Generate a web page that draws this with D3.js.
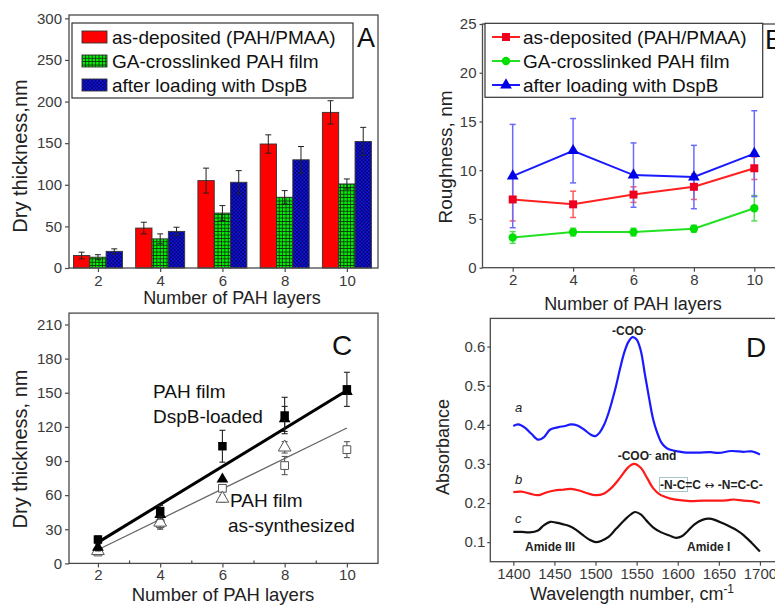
<!DOCTYPE html>
<html>
<head>
<meta charset="utf-8">
<script src="https://cdn.jsdelivr.net/npm/d3@7"></script>
<style>
  body { margin: 0; background: #fff; }
  svg { font-family: "Liberation Sans", Arial, sans-serif; }
</style>
</head>
<body>
<svg id="fig" width="775" height="605"></svg>
<script>
// ---- data ----
var layers = [2, 4, 6, 8, 10];
var layerTicks = [2, 4, 6, 8, 10];

// A: dry thickness bars (nm)
var thickAsDep = [15, 48, 105, 149, 187];
var thickAsDepErr = [4, 7, 15, 11, 14];
var thickGA = [13, 35, 66, 85, 101];
var thickGAErr = [3, 6, 9, 8, 6];
var thickDspB = [20, 44, 103, 130, 152];
var thickDspBErr = [3, 5, 14, 16, 17];
var thickTicks = [0, 50, 100, 150, 200, 250, 300];

// B: roughness (nm)
var roughAsDep = [7.0, 6.5, 7.5, 8.3, 10.2];
var roughAsDepErr = [2.2, 1.35, 0.8, 1.3, 1.15];
var roughGA = [3.1, 3.65, 3.65, 4.0, 6.1];
var roughGAErr = [0.6, 0.4, 0.4, 0.35, 1.3];
var roughDspB = [9.4, 12.0, 9.5, 9.3, 11.7];
var roughDspBErr = [5.3, 3.3, 3.3, 3.25, 4.4];
var roughTicks = [0, 5, 10, 15, 20, 25];

// C: thickness vs layers, measured / calculated
var loadedMeas = [21, 46, 103, 130, 153];
var loadedMeasErr = [3, 5, 14, 16, 15];
var loadedCalc = [14, 43, 74, 127, 151];
var loadedCalcErr = [3, 4, 0, 11, 0];
var synthMeas = [10, 35, 66, 86, 100];
var synthMeasErr = [2, 4, 3, 8, 7];
var synthCalc = [11, 36, 57, 102, null];
var synthCalcErr = [2, 6, 3, 5, 0];
var fitLayers = [2, 10];
var fitLoaded = [18.5, 152];
var fitSynth = [12, 119];
var thickTicksC = [0, 30, 60, 90, 120, 150, 180, 210];
var minorLayers = [3, 5, 7, 9];

// D: FTIR spectra
var specA_x = [1400,1406,1414,1422,1430,1437,1445,1455,1463,1470,1478,1486,1494,1500,1505,1510,1515,1520,1525,1530,1535,1540,1545,1550,1555,1560,1565,1570,1575,1580,1585,1590,1600,1610,1625,1640,1650,1665,1680,1690,1700];
var specA_y = [0.397,0.401,0.393,0.377,0.362,0.368,0.388,0.394,0.397,0.401,0.398,0.388,0.375,0.371,0.380,0.398,0.425,0.460,0.500,0.545,0.585,0.612,0.624,0.618,0.590,0.530,0.470,0.415,0.380,0.355,0.343,0.337,0.332,0.329,0.329,0.330,0.328,0.333,0.331,0.332,0.324];
var specB_x = [1400,1410,1420,1430,1440,1450,1460,1470,1480,1490,1500,1510,1520,1530,1540,1547,1555,1563,1570,1578,1590,1600,1615,1630,1645,1660,1668,1680,1690,1700];
var specB_y = [0.228,0.229,0.224,0.220,0.227,0.232,0.234,0.236,0.232,0.225,0.220,0.224,0.240,0.265,0.292,0.300,0.290,0.263,0.238,0.222,0.212,0.208,0.205,0.206,0.206,0.207,0.209,0.206,0.205,0.200];
var specC_x = [1400,1410,1420,1430,1437,1445,1452,1460,1468,1476,1484,1492,1500,1508,1515,1525,1535,1543,1548,1555,1562,1570,1580,1590,1598,1605,1612,1620,1630,1638,1645,1655,1665,1672,1680,1690,1700];
var specC_y = [0.126,0.126,0.125,0.130,0.143,0.152,0.150,0.146,0.141,0.132,0.119,0.107,0.100,0.104,0.112,0.134,0.156,0.171,0.177,0.171,0.155,0.138,0.125,0.117,0.111,0.115,0.128,0.145,0.157,0.160,0.157,0.148,0.138,0.130,0.118,0.098,0.076];
var waveTicks = [1400, 1450, 1500, 1550, 1600, 1650, 1700];
var absTicks = [0.1, 0.2, 0.3, 0.4, 0.5, 0.6];

// ---- drawing ----
var svg = d3.select("#fig");
var grey = "#4a4a4a";

var defs = svg.append("defs");
var pg = defs.append("pattern").attr("id", "gridGreen")
  .attr("patternUnits", "userSpaceOnUse").attr("width", 3.4).attr("height", 3.4);
pg.append("rect").attr("width", 3.4).attr("height", 3.4).attr("fill", "#00ee00");
pg.append("path").attr("d", "M0,0.4H3.4M0.4,0V3.4").attr("stroke", "#103010").attr("stroke-width", 0.9);
var pb = defs.append("pattern").attr("id", "hatchBlue")
  .attr("patternUnits", "userSpaceOnUse").attr("width", 3.6).attr("height", 3.6);
pb.append("rect").attr("width", 3.6).attr("height", 3.6).attr("fill", "#1515d8");
pb.append("path").attr("d", "M0,0L3.6,3.6M3.6,0L0,3.6").attr("stroke", "#00006a").attr("stroke-width", 0.8);

function styleAxis(sel, fs) {
  sel.select(".domain").remove();
  sel.selectAll("line").attr("stroke", grey).attr("stroke-width", 1.2);
  sel.selectAll("text").attr("fill", "#3a3a3a").style("font-size", fs || "15px");
}
function frame(g, x0, y0, x1, y1) {
  g.append("rect").attr("x", x0).attr("y", y0)
    .attr("width", x1 - x0).attr("height", y1 - y0)
    .attr("fill", "none").attr("stroke", grey).attr("stroke-width", 1.3);
}
function ytitle(g, txt, x, y, fs) {
  g.append("text").attr("transform", "translate(" + x + "," + y + ")rotate(-90)")
    .attr("text-anchor", "middle").attr("dominant-baseline", "central")
    .style("font-size", fs).attr("fill", "#222").text(txt);
}
function xtitle(g, txt, x, y, fs) {
  return g.append("text").attr("x", x).attr("y", y).attr("text-anchor", "middle")
    .style("font-size", fs).attr("fill", "#222").text(txt);
}
function errBars(g, xs, ys, es, xsc, ysc, color, cap, sw) {
  layers.forEach(function (d, i) {
    if (ys[i] == null || !es[i]) return;
    var x = xsc(xs[i]), yl = ysc(ys[i] - es[i]), yh = ysc(ys[i] + es[i]);
    g.append("line").attr("x1", x).attr("x2", x).attr("y1", yl).attr("y2", yh)
      .attr("stroke", color).attr("stroke-width", sw);
    [yl, yh].forEach(function (yy) {
      g.append("line").attr("x1", x - cap).attr("x2", x + cap).attr("y1", yy).attr("y2", yy)
        .attr("stroke", color).attr("stroke-width", sw);
    });
  });
}

// ===== Panel A =====
var xA = d3.scaleLinear().domain([1.07, 11]).range([69, 378]);
var yA = d3.scaleLinear().domain([0, 304]).range([268, 15]);
var gA = svg.append("g");
var bw = 0.525;
var seriesA = [
  { vals: thickAsDep, err: thickAsDepErr, fill: "#ff0000", off: -1, name: "as-deposited (PAH/PMAA)" },
  { vals: thickGA, err: thickGAErr, fill: "url(#gridGreen)", off: 0, name: "GA-crosslinked PAH film" },
  { vals: thickDspB, err: thickDspBErr, fill: "url(#hatchBlue)", off: 1, name: "after loading with DspB" }
];
seriesA.forEach(function (s) {
  gA.selectAll(null).data(layers).enter().append("rect")
    .attr("x", function (d) { return xA(d + (s.off - 0.5) * bw); })
    .attr("width", xA(bw) - xA(0))
    .attr("y", function (d, i) { return yA(s.vals[i]); })
    .attr("height", function (d, i) { return yA(0) - yA(s.vals[i]); })
    .attr("fill", s.fill).attr("stroke", "#333").attr("stroke-width", 0.9);
  var cx = layers.map(function (d) { return d + s.off * bw; });
  errBars(gA, cx, s.vals, s.err, xA, yA, "#222", 3, 1);
});
gA.append("g").attr("transform", "translate(0,268)")
  .call(d3.axisBottom(xA).tickValues(layerTicks).tickSize(4).tickPadding(3).tickFormat(d3.format("d")))
  .call(styleAxis);
gA.append("g").attr("transform", "translate(69,0)")
  .call(d3.axisLeft(yA).tickValues(thickTicks).tickSize(4).tickPadding(3))
  .call(styleAxis);
frame(gA, 69, 15, 378, 268);
var legA = gA.append("g");
legA.append("rect").attr("x", 72).attr("y", 23).attr("width", 281).attr("height", 75)
  .attr("fill", "#fff").attr("stroke", "#333").attr("stroke-width", 1.2);
seriesA.forEach(function (s, i) {
  var cy = 37 + i * 24;
  legA.append("rect").attr("x", 82).attr("y", cy - 6).attr("width", 25).attr("height", 12)
    .attr("fill", s.fill).attr("stroke", "#333").attr("stroke-width", 0.9);
  legA.append("text").attr("x", 112).attr("y", cy + 7).style("font-size", "19px")
    .attr("fill", "#111").text(s.name);
});
gA.append("text").attr("x", 357).attr("y", 47).style("font-size", "27px").attr("fill", "#111").text("A");
ytitle(gA, "Dry thickness,nm", 20, 156, "20px");
xtitle(gA, "Number of PAH layers", 232, 304, "18px");

// ===== Panel B =====
var xB = d3.scaleLinear().domain([1, 11]).range([482.5, 784.5]);
var yB = d3.scaleLinear().domain([0, 25]).range([267.7, 24]);
var gB = svg.append("g");
var seriesB = [
  { vals: roughGA, err: roughGAErr, line: "#22e022", mark: "#00e000", ebar: "#55dd55", sym: d3.symbolCircle, size: 55, name: "GA-crosslinked PAH film" },
  { vals: roughAsDep, err: roughAsDepErr, line: "#ff2020", mark: "#ee0020", ebar: "#ff5a5a", sym: d3.symbolSquare, size: 64, name: "as-deposited (PAH/PMAA)" },
  { vals: roughDspB, err: roughDspBErr, line: "#1a1aff", mark: "#0000e8", ebar: "#6a6aff", sym: d3.symbolTriangle, size: 60, name: "after loading with DspB" }
];
seriesB.forEach(function (s) {
  errBars(gB, layers, s.vals, s.err, xB, yB, s.ebar, 3, 1.5);
});
seriesB.forEach(function (s) {
  gB.append("path").datum(layers)
    .attr("d", d3.line().x(function (d) { return xB(d); }).y(function (d, i) { return yB(s.vals[i]); }))
    .attr("fill", "none").attr("stroke", s.line).attr("stroke-width", 2);
  gB.selectAll(null).data(layers).enter().append("path")
    .attr("transform", function (d, i) { return "translate(" + xB(d) + "," + yB(s.vals[i]) + ")"; })
    .attr("d", d3.symbol().type(s.sym).size(s.size)).attr("fill", s.mark);
});
gB.append("g").attr("transform", "translate(0,267.7)")
  .call(d3.axisBottom(xB).tickValues(layerTicks).tickSize(4).tickPadding(3).tickFormat(d3.format("d")))
  .call(styleAxis);
gB.append("g").attr("transform", "translate(482.5,0)")
  .call(d3.axisLeft(yB).tickValues(roughTicks).tickSize(3).tickPadding(3))
  .call(styleAxis);
frame(gB, 482.5, 24, 784.5, 267.7);
var legB = gB.append("g");
legB.append("rect").attr("x", 485).attr("y", 23.3).attr("width", 277.7).attr("height", 74)
  .attr("fill", "#fff").attr("stroke", "#333").attr("stroke-width", 1.2);
[seriesB[1], seriesB[0], seriesB[2]].forEach(function (s, i) {
  var cy = 37 + i * 24;
  legB.append("line").attr("x1", 492).attr("x2", 520).attr("y1", cy).attr("y2", cy)
    .attr("stroke", s.line).attr("stroke-width", 2);
  legB.append("path").attr("transform", "translate(506," + cy + ")")
    .attr("d", d3.symbol().type(s.sym).size(s.size)).attr("fill", s.mark);
  legB.append("text").attr("x", 523).attr("y", cy + 7).style("font-size", "19px")
    .attr("fill", "#111").text(s.name);
});
gB.append("text").attr("x", 765).attr("y", 49).style("font-size", "27px").attr("fill", "#111").text("B");
ytitle(gB, "Roughness, nm", 445, 157, "19px");
xtitle(gB, "Number of PAH layers", 633, 310, "18px");

// ===== Panel C =====
var xC = d3.scaleLinear().domain([1.07, 11]).range([69, 378]);
var yC = d3.scaleLinear().domain([0, 220]).range([563.4, 313.1]);
var gC = svg.append("g");
var fitLine = function (vals) {
  return d3.line().x(function (d) { return xC(d); }).y(function (d, i) { return yC(vals[i]); })(fitLayers);
};
gC.append("path").attr("d", fitLine(fitSynth)).attr("fill", "none").attr("stroke", "#666").attr("stroke-width", 1.3);
gC.append("path").attr("d", fitLine(fitLoaded)).attr("fill", "none").attr("stroke", "#000").attr("stroke-width", 3);
var seriesC = [
  { vals: synthMeas, err: synthMeasErr, sym: d3.symbolSquare, size: 60, fill: "#fff", stroke: "#555", ecol: "#555" },
  { vals: synthCalc, err: synthCalcErr, sym: d3.symbolTriangle, size: 70, fill: "#fff", stroke: "#555", ecol: "#555" },
  { vals: loadedCalc, err: loadedCalcErr, sym: d3.symbolTriangle, size: 60, fill: "#000", stroke: "none", ecol: "#222" },
  { vals: loadedMeas, err: loadedMeasErr, sym: d3.symbolSquare, size: 72, fill: "#000", stroke: "none", ecol: "#222" }
];
seriesC.forEach(function (s) {
  errBars(gC, layers, s.vals, s.err, xC, yC, s.ecol, 3, 1.1);
  gC.selectAll(null).data(layers.filter(function (d, i) { return s.vals[i] != null; }))
    .enter().append("path")
    .attr("transform", function (d) { return "translate(" + xC(d) + "," + yC(s.vals[layers.indexOf(d)]) + ")"; })
    .attr("d", d3.symbol().type(s.sym).size(s.size))
    .attr("fill", s.fill).attr("stroke", s.stroke).attr("stroke-width", 1);
});
gC.append("g").attr("transform", "translate(0,563.4)")
  .call(d3.axisBottom(xC).tickValues(layerTicks).tickSize(4).tickPadding(2).tickFormat(d3.format("d")))
  .call(styleAxis);
gC.append("g").attr("transform", "translate(0,563.4)")
  .call(d3.axisTop(xC).tickValues(minorLayers).tickSize(3).tickFormat(""))
  .call(styleAxis);
gC.append("g").attr("transform", "translate(69,0)")
  .call(d3.axisLeft(yC).tickValues(thickTicksC).tickSize(4).tickPadding(3))
  .call(styleAxis);
frame(gC, 69, 313.1, 378, 563.4);
gC.append("text").attr("x", 332).attr("y", 355).style("font-size", "28px").attr("fill", "#111").text("C");
[["PAH film", 153, 398], ["DspB-loaded", 153, 423], ["PAH film", 230, 507], ["as-synthesized", 228, 532]]
  .forEach(function (t) {
    gC.append("text").attr("x", t[1]).attr("y", t[2]).style("font-size", "19px").attr("fill", "#111").text(t[0]);
  });
ytitle(gC, "Dry thickness, nm", 20, 449, "20px");
xtitle(gC, "Number of PAH layers", 223, 601, "18.5px");

// ===== Panel D =====
var xD = d3.scaleLinear().domain([1372, 1730]).range([490.3, 784.6]);
var yD = d3.scaleLinear().domain([0.05, 0.672]).range([561.7, 318.4]);
var gD = svg.append("g");
var spectra = [
  { xs: specA_x, ys: specA_y, color: "#1a1aff" },
  { xs: specB_x, ys: specB_y, color: "#ff1a1a" },
  { xs: specC_x, ys: specC_y, color: "#111" }
];
spectra.forEach(function (s) {
  gD.append("path").datum(s.xs)
    .attr("d", d3.line().curve(d3.curveCatmullRom)
      .x(function (d) { return xD(d); }).y(function (d, i) { return yD(s.ys[i]); }))
    .attr("fill", "none").attr("stroke", s.color).attr("stroke-width", 2.2);
});
gD.append("g").attr("transform", "translate(0,561.7)")
  .call(d3.axisBottom(xD).tickValues(waveTicks).tickSize(4).tickPadding(3).tickFormat(d3.format("d")))
  .call(styleAxis);
gD.append("g").attr("transform", "translate(490.3,0)")
  .call(d3.axisLeft(yD).tickValues(absTicks).tickSize(3).tickPadding(2).tickFormat(d3.format(".1f")))
  .call(styleAxis);
frame(gD, 490.3, 318.4, 784.6, 561.7);
gD.append("text").attr("x", 746).attr("y", 357).style("font-size", "28px").attr("fill", "#111").text("D");

function boldNote(x, y, anchor) {
  return gD.append("text").attr("x", x).attr("y", y).attr("text-anchor", anchor || "start")
    .style("font-size", "12px").style("font-weight", "bold").attr("fill", "#222");
}
var n1 = boldNote(629, 335, "middle");
n1.append("tspan").text("-COO");
n1.append("tspan").attr("dy", -4).style("font-size", "8px").text("-");
var n2 = boldNote(647, 460, "middle");
n2.append("tspan").text("-COO");
n2.append("tspan").attr("dy", -4).style("font-size", "8px").text("-");
n2.append("tspan").attr("dy", 4).text(" and");
gD.append("rect").attr("x", 659.5).attr("y", 477.5).attr("width", 28).attr("height", 14)
  .attr("fill", "none").attr("stroke", "#a8c6c8").attr("stroke-width", 1);
var n3 = boldNote(660, 489);
n3.append("tspan").text("-N-C=C ");
n3.append("tspan").style("font-weight", "normal").style("font-family", "DejaVu Sans").style("font-size", "12px").text("\u2194");
n3.append("tspan").text(" -N=C-C-");
boldNote(525, 551).text("Amide III");
boldNote(687, 551).text("Amide I");
[["a", 412], ["b", 484], ["c", 523]].forEach(function (t) {
  gD.append("text").attr("x", 515).attr("y", t[1]).style("font-size", "13px")
    .style("font-style", "italic").attr("fill", "#222").text(t[0]);
});
ytitle(gD, "Absorbance", 443, 447, "18px");
var wt = xtitle(gD, "Wavelength number, cm", 632, 600, "18px");
wt.append("tspan").attr("dy", -7).style("font-size", "12px").text("-1");
</script>
</body>
</html>
